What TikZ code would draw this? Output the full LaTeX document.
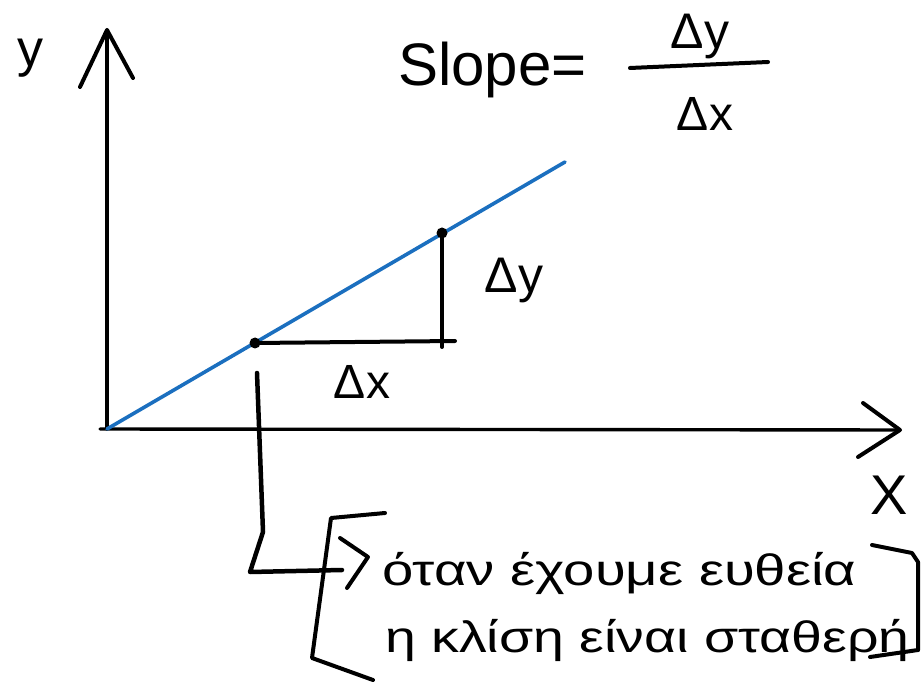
\documentclass[tikz,border=0pt]{standalone}
\usepackage{fontspec}
\setmainfont{Liberation Sans}
\begin{document}
\begin{tikzpicture}[x=1pt,y=-1pt,
  ink/.style={line width=4pt, line cap=round, line join=round, black},
  axisline/.style={line width=3.4pt, line cap=round, black},
  blueline/.style={line width=3.6pt, line cap=round, color=penblue},
  dotpt/.style={circle, fill=black, inner sep=0pt, minimum size=11pt},
  hand/.style={inner sep=0pt, text=black}]
\definecolor{penblue}{HTML}{1B6FBF}
\useasboundingbox (0,0) rectangle (921,684);
% axes
\coordinate (O) at (107,429);
\coordinate (Ox) at (100,429);
\coordinate (ytip) at (107,30);
\coordinate (yl) at (80,87);
\coordinate (yr) at (133,78);
\coordinate (xtip) at (900,430);
\coordinate (xu) at (863,403);
\coordinate (xd) at (858,457);
\draw[axisline] (O) -- (ytip);
\draw[axisline] (Ox) -- (xtip);
\draw[ink] (yl) -- (ytip) -- (yr);
\draw[ink] (xu) -- (xtip) -- (xd);
\node[hand, font=\fontsize{52}{52}\selectfont] (ylab) at (30,58) {y};
\node[hand, font=\fontsize{56}{56}\selectfont] (xlab) at (889,495) {X};
% line
\coordinate (L) at (565,162);
\draw[blueline] (O) -- (L);
\node[dotpt] (P1) at (255,343) {};
\node[dotpt] (P2) at (442,233) {};
\coordinate (H) at (455,341);
\coordinate (V) at (442,347);
\draw[ink] (P1.center) -- (H);
\draw[ink] (P2.center) -- (V);
\node[hand, font=\fontsize{50}{50}\selectfont] (dy) at (514,280) {Δy};
\node[hand, font=\fontsize{48}{48}\selectfont] (dx) at (362,382) {Δx};
% slope formula
\node[hand, anchor=base west, font=\fontsize{60}{60}\selectfont] (slope) at (398,86) {Slope=};
\coordinate (fa) at (630,68);
\coordinate (fb) at (768,62);
\draw[ink] (fa) -- (fb);
\node[hand, font=\fontsize{50}{50}\selectfont] (num) at (700,36) {Δy};
\node[hand, font=\fontsize{48}{48}\selectfont] (den) at (705,114) {Δx};
% connector
\coordinate (c0) at (257,373);
\coordinate (c1) at (263,532);
\coordinate (c2) at (250,572);
\coordinate (c3) at (342,570);
\draw[ink, line width=4.5pt] (c0) -- (c1) -- (c2) -- (c3);
\coordinate (g1) at (340,538);
\coordinate (g2) at (368,557);
\coordinate (g3) at (347,588);
\draw[ink] (g1) -- (g2) -- (g3);
% left bracket
\coordinate (lb1) at (385,513);
\coordinate (lb2) at (331,518);
\coordinate (lb3) at (312,658);
\coordinate (lb4) at (373,680);
\draw[ink] (lb1) -- (lb2) -- (lb3) -- (lb4);
% right bracket
\coordinate (rb1) at (872,545);
\coordinate (rb2) at (912,553);
\coordinate (rb3) at (918,562);
\coordinate (rb4) at (918,650);
\coordinate (rb5) at (870,657);
\draw[ink] (rb1) -- (rb2) -- (rb3) -- (rb4);
\draw[ink] (rb5) -- (rb4);
% Greek text
\node[hand, anchor=base west, font=\fontsize{44}{44}\selectfont] (t1) at (382,585) {\scalebox{1.28}[1]{όταν έχουμε ευθεία}};
\node[hand, anchor=base west, font=\fontsize{44}{44}\selectfont] (t2) at (385,652) {\scalebox{1.26}[1]{η κλίση είναι σταθερή}};
\end{tikzpicture}
\end{document}
